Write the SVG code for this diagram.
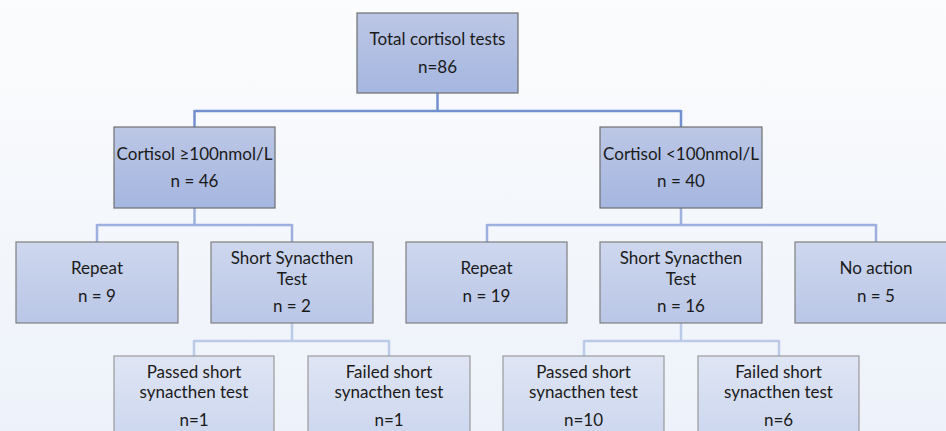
<svg xmlns="http://www.w3.org/2000/svg" width="946" height="431" viewBox="0 0 946 431">
<defs>
<linearGradient id="bg" x1="0" y1="0" x2="0" y2="1">
<stop offset="0" stop-color="#fbfcfd"/>
<stop offset="1" stop-color="#edf2fa"/>
</linearGradient>
<linearGradient id="g1" x1="0" y1="0" x2="0" y2="1">
<stop offset="0" stop-color="#bcc7e5"/>
<stop offset="1" stop-color="#a5b6e0"/>
</linearGradient>
<linearGradient id="g2" x1="0" y1="0" x2="0" y2="1">
<stop offset="0" stop-color="#ced7ee"/>
<stop offset="1" stop-color="#b9c6e6"/>
</linearGradient>
<linearGradient id="g3" x1="0" y1="0" x2="0" y2="1">
<stop offset="0" stop-color="#dfe5f4"/>
<stop offset="1" stop-color="#ccd6ee"/>
</linearGradient>
</defs>
<style>
.b1{fill:url(#g1);stroke:#6e6e6e;stroke-width:1.2}
.b2{fill:url(#g2);stroke:#7f7f7f;stroke-width:1.2}
.b3{fill:url(#g3);stroke:#9a9a9a;stroke-width:1.2}
text{font-family:Lato,"Open Sans","Liberation Sans",sans-serif;font-size:17px;fill:#1a1a1a;text-anchor:middle}
.c1{fill:none;stroke:#7390d0;stroke-width:2.5}
.c2{fill:none;stroke:#9eb1de;stroke-width:2.5}
.c3{fill:none;stroke:#bccae9;stroke-width:2.5}
</style>
<rect width="946" height="431" fill="url(#bg)"/>
<g id="connectors">
<path class="c1" d="M437.5 93V111M194.5 111H681M194.5 110V127M681 110V127"/>
<path class="c2" d="M194.5 208V225M97 225H292M97 224V242M292 224V242"/>
<path class="c2" d="M681 208V225M487 225H876M487 224V242M876 224V242"/>
<path class="c3" d="M292 323V341M194 341H389M194 340V356M389 340V356"/>
<path class="c3" d="M681 323V341M584 341H779M584 340V356M779 340V356"/>
</g>
<g id="total">
<rect class="b1" x="357" y="13" width="161" height="80"/>
<text x="437.5" y="45">Total cortisol tests</text>
<text x="437.5" y="72.5">n=86</text>
</g>
<g id="high">
<rect class="b1" x="114" y="127" width="161" height="81"/>
<text x="194.5" y="160">Cortisol ≥100nmol/L</text>
<text x="194.5" y="187">n = 46</text>
</g>
<g id="low">
<rect class="b1" x="600" y="127" width="162" height="81"/>
<text x="681" y="160">Cortisol &lt;100nmol/L</text>
<text x="681" y="187">n = 40</text>
</g>
<g id="repeat1">
<rect class="b2" x="16" y="242" width="162" height="81"/>
<text x="97" y="273.5">Repeat</text>
<text x="97" y="301.5">n = 9</text>
</g>
<g id="sst1">
<rect class="b2" x="211" y="242" width="162" height="81"/>
<text x="292" y="263.5">Short Synacthen</text>
<text x="292" y="284.5">Test</text>
<text x="292" y="311.5">n = 2</text>
</g>
<g id="repeat2">
<rect class="b2" x="406" y="242" width="161" height="81"/>
<text x="486.5" y="273.5">Repeat</text>
<text x="486.5" y="301.5">n = 19</text>
</g>
<g id="sst2">
<rect class="b2" x="600" y="242" width="162" height="81"/>
<text x="681" y="263.5">Short Synacthen</text>
<text x="681" y="284.5">Test</text>
<text x="681" y="311.5">n = 16</text>
</g>
<g id="noaction">
<rect class="b2" x="795" y="242" width="162" height="81"/>
<text x="876" y="273.5">No action</text>
<text x="876" y="301.5">n = 5</text>
</g>
<g id="passed1">
<rect class="b3" x="114" y="356" width="160" height="82"/>
<text x="194" y="377.5">Passed short</text>
<text x="194" y="398">synacthen test</text>
<text x="194" y="426">n=1</text>
</g>
<g id="failed1">
<rect class="b3" x="308" y="356" width="162" height="82"/>
<text x="389" y="377.5">Failed short</text>
<text x="389" y="398">synacthen test</text>
<text x="389" y="426">n=1</text>
</g>
<g id="passed2">
<rect class="b3" x="503" y="356" width="161" height="82"/>
<text x="583.5" y="377.5">Passed short</text>
<text x="583.5" y="398">synacthen test</text>
<text x="583.5" y="426">n=10</text>
</g>
<g id="failed2">
<rect class="b3" x="698" y="356" width="161" height="82"/>
<text x="778.5" y="377.5">Failed short</text>
<text x="778.5" y="398">synacthen test</text>
<text x="778.5" y="426">n=6</text>
</g>
</svg>
